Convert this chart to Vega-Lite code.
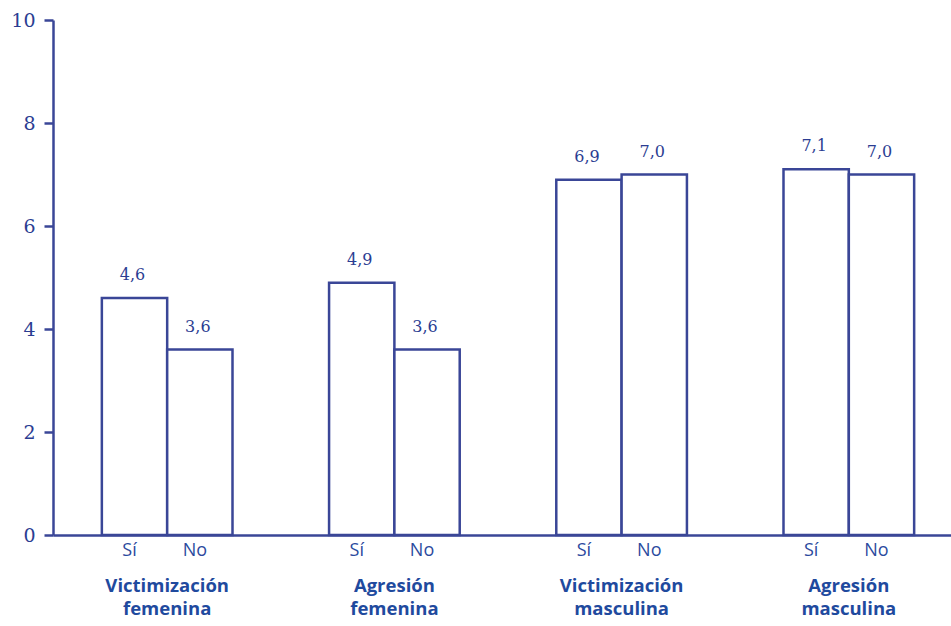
{
  "$schema": "https://vega.github.io/schema/vega-lite/v6.json",
  "width": 898,
  "height": 515,
  "autosize": {"type": "none"},
  "padding": {"left": 53, "top": 20, "right": 0, "bottom": 91},
  "background": "white",
  "config": {
    "view": {"stroke": null},
    "locale": {"number": {"decimal": ",", "thousands": ".", "grouping": [3], "currency": ["", " €"]}}
  },
  "data": {
    "values": [
      {"grupo": "Victimización femenina", "respuesta": "Sí", "valor": 4.6},
      {"grupo": "Victimización femenina", "respuesta": "No", "valor": 3.6},
      {"grupo": "Agresión femenina", "respuesta": "Sí", "valor": 4.9},
      {"grupo": "Agresión femenina", "respuesta": "No", "valor": 3.6},
      {"grupo": "Victimización masculina", "respuesta": "Sí", "valor": 6.9},
      {"grupo": "Victimización masculina", "respuesta": "No", "valor": 7.0},
      {"grupo": "Agresión masculina", "respuesta": "Sí", "valor": 7.1},
      {"grupo": "Agresión masculina", "respuesta": "No", "valor": 7.0}
    ]
  },
  "encoding": {
    "x": {
      "field": "grupo",
      "type": "nominal",
      "sort": null,
      "scale": {"range": [0, 910], "paddingInner": 0.425, "paddingOuter": 0.215},
      "axis": {
        "title": null,
        "orient": "bottom",
        "domainColor": "#3a4697",
        "domainWidth": 2.5,
        "ticks": false,
        "labelAngle": 0,
        "labelExpr": "split(datum.label, ' ')",
        "labelFont": "Open Sans",
        "labelFontWeight": "bold",
        "labelFontSize": 18.5,
        "labelColor": "#1f4a9e",
        "labelPadding": 41,
        "labelBaseline": "top",
        "labelLineHeight": 23
      }
    },
    "xOffset": {
      "field": "respuesta",
      "type": "nominal",
      "sort": ["Sí", "No"],
      "scale": {"paddingInner": 0, "paddingOuter": 0}
    }
  },
  "layer": [
    {
      "mark": {"type": "bar", "fill": "white", "stroke": "#3a4697", "strokeWidth": 2.5},
      "encoding": {
        "y": {
          "field": "valor",
          "type": "quantitative",
          "scale": {"domain": [0, 10], "nice": false},
          "axis": {
            "title": null,
            "values": [0, 2, 4, 6, 8, 10],
            "grid": false,
            "domainColor": "#3a4697",
            "domainWidth": 2.5,
            "tickColor": "#3a4697",
            "tickWidth": 2.5,
            "tickSize": 9,
            "labelPadding": 9,
            "labelFont": "DejaVu Serif",
            "labelFontSize": 19,
            "labelColor": "#2b3d92"
          }
        }
      }
    },
    {
      "mark": {"type": "text", "baseline": "bottom", "dy": -15, "dx": -2, "font": "DejaVu Serif", "fontSize": 16, "color": "#2b3d92"},
      "encoding": {
        "y": {"field": "valor", "type": "quantitative"},
        "text": {"field": "valor", "type": "quantitative", "format": ".1f"}
      }
    },
    {
      "mark": {"type": "text", "baseline": "top", "dy": 7, "dx": -5, "font": "Open Sans", "fontSize": 18, "color": "#2b4a9e"},
      "encoding": {
        "y": {"datum": 0, "type": "quantitative"},
        "text": {"field": "respuesta", "type": "nominal"}
      }
    }
  ]
}
